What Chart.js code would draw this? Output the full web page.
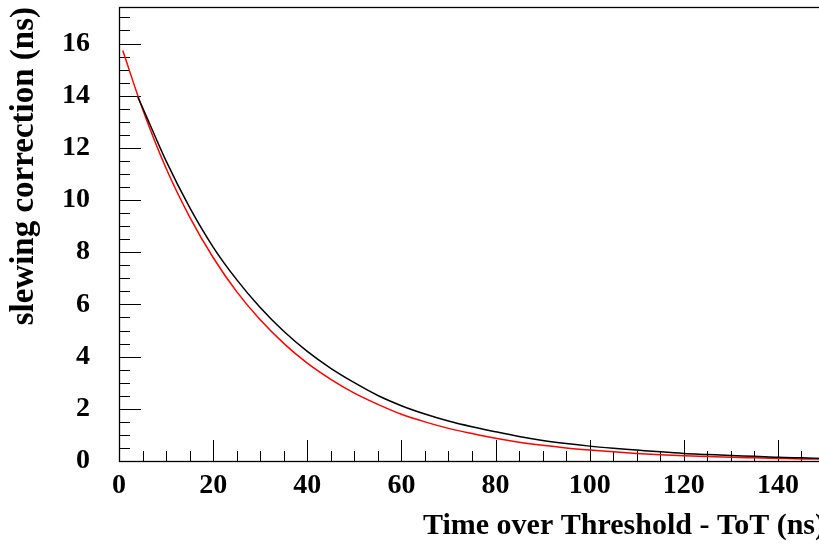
<!DOCTYPE html>
<html>
<head>
<meta charset="utf-8">
<script src="https://cdn.jsdelivr.net/npm/chart.js@4.4.1/dist/chart.umd.min.js"></script>
<style>
  html, body { margin: 0; padding: 0; background: #fff; overflow: hidden; }
  canvas { display: block; }
</style>
</head>
<body>
<canvas id="c" width="825" height="544"></canvas>
<script>
// Slewing correction vs. time over threshold
const blackToT  = [4, 5, 10, 15, 20, 25, 30, 35, 40, 45, 50, 55, 60, 65, 70, 75, 80, 85, 90, 95, 100, 105, 110, 115, 120, 125, 130, 135, 140, 145, 150];
const blackCorr = [13.95, 13.55, 11.5, 9.72, 8.2, 6.95, 5.88, 4.97, 4.2, 3.55, 3.0, 2.51, 2.12, 1.8, 1.53, 1.31, 1.12, 0.94, 0.79, 0.67, 0.57, 0.49, 0.42, 0.35, 0.29, 0.25, 0.21, 0.18, 0.14, 0.12, 0.1];
const redToT    = [0.8, 5, 10, 15, 20, 25, 30, 35, 40, 45, 50, 55, 60, 65, 70, 75, 80, 85, 90, 95, 100, 105, 110, 115, 120, 125, 130, 135, 140, 145, 150];
const redCorr   = [15.73, 13.49, 11.22, 9.36, 7.8, 6.49, 5.41, 4.51, 3.75, 3.13, 2.6, 2.17, 1.79, 1.5, 1.25, 1.05, 0.87, 0.72, 0.6, 0.5, 0.42, 0.35, 0.29, 0.24, 0.2, 0.17, 0.14, 0.12, 0.1, 0.08, 0.07];

const xTitle = 'Time over Threshold - ToT (ns)';
const yTitle = 'slewing correction (ns)';

const toPoints = (xs, ys) => xs.map((x, i) => ({ x: x, y: ys[i] }));

const FONT = "'Liberation Serif', 'Times New Roman', serif";

// Frame plus inward major/minor tick marks, ROOT style
const frameTicks = {
  id: 'frameTicks',
  beforeDatasetsDraw(chart) {
    const { ctx, chartArea: a, scales: { x, y } } = chart;
    ctx.save();
    ctx.strokeStyle = '#000';
    ctx.lineWidth = 1;
    ctx.beginPath();
    // x ticks every 5, major every 20
    for (let v = 0; v <= 150; v += 5) {
      const px = Math.round(x.getPixelForValue(v)) + 0.5;
      const len = (v % 20 === 0) ? 21 : 10;
      ctx.moveTo(px, a.bottom);
      ctx.lineTo(px, a.bottom - len);
    }
    // y ticks every 0.5, major every 2
    for (let v = 0; v <= 17.4 + 1e-9; v += 0.5) {
      const py = Math.round(y.getPixelForValue(v)) + 0.5;
      const len = (Math.abs(v % 2) < 1e-9) ? 22 : 11;
      ctx.moveTo(a.left, py);
      ctx.lineTo(a.left + len, py);
    }
    ctx.stroke();
    ctx.lineWidth = 1.3;
    ctx.strokeRect(a.left + 0.5, a.top + 0.5, a.right - a.left, a.bottom - a.top);
    ctx.restore();
  }
};

new Chart(document.getElementById('c'), {
  type: 'line',
  data: {
    datasets: [
      {
        data: toPoints(blackToT, blackCorr),
        borderColor: '#000000',
        borderWidth: 1.5,
        pointRadius: 0,
        cubicInterpolationMode: 'monotone',
        fill: false
      },
      {
        data: toPoints(redToT, redCorr),
        borderColor: '#ff0000',
        borderWidth: 1.5,
        pointRadius: 0,
        cubicInterpolationMode: 'monotone',
        fill: false
      }
    ]
  },
  options: {
    responsive: false,
    devicePixelRatio: 1,
    animation: false,
    layout: { padding: { top: 7, left: 0, right: 0, bottom: 0 } },
    plugins: { legend: { display: false }, tooltip: { enabled: false } },
    scales: {
      x: {
        type: 'linear',
        min: 0,
        max: 150,
        afterFit(s) {
          s.height = 83;
          s.paddingLeft = 0; s.paddingRight = 0; s.paddingTop = 0; s.paddingBottom = 0;
        },
        grid: { display: false, drawTicks: false },
        border: { display: false },
        ticks: {
          stepSize: 20,
          includeBounds: false,
          autoSkip: false,
          maxRotation: 0,
          padding: 8,
          color: '#000',
          font: { family: FONT, size: 28, weight: 'bold' }
        },
        title: {
          display: true,
          text: xTitle,
          align: 'end',
          color: '#000',
          padding: { top: 0, bottom: 0 },
          font: { family: FONT, size: 30, weight: 'bold' }
        }
      },
      y: {
        type: 'linear',
        min: 0,
        max: 17.4,
        afterFit(s) {
          s.width = 119;
          s.paddingLeft = 0; s.paddingRight = 0; s.paddingTop = 0; s.paddingBottom = 0;
        },
        grid: { display: false, drawTicks: false },
        border: { display: false },
        ticks: {
          stepSize: 2,
          includeBounds: false,
          autoSkip: false,
          padding: 29,
          color: '#000',
          font: { family: FONT, size: 28, weight: 'bold' }
        },
        title: {
          display: true,
          text: yTitle,
          align: 'end',
          color: '#000',
          padding: { top: 5, bottom: 0 },
          font: { family: FONT, size: 33, weight: 'bold' }
        }
      }
    }
  },
  plugins: [frameTicks]
});
</script>
</body>
</html>
